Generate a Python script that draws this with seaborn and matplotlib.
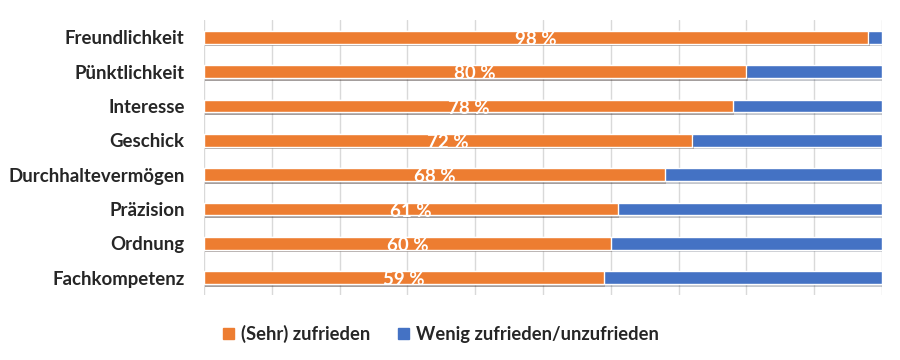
import matplotlib.pyplot as plt
import matplotlib.patheffects as pe
import numpy as np
import pandas as pd
import seaborn as sns
from matplotlib.patches import Patch

categories = ['Freundlichkeit', 'Pünktlichkeit', 'Interesse', 'Geschick',
              'Durchhaltevermögen', 'Präzision', 'Ordnung', 'Fachkompetenz']
zufrieden = [98, 80, 78, 72, 68, 61, 60, 59]
unzufrieden = [2, 20, 22, 28, 32, 39, 40, 41]
series_names = ['(Sehr) zufrieden', 'Wenig zufrieden/unzufrieden']

orange = '#ED7D31'
blue = '#4472C4'

sns.set_theme(style='white')
plt.rcParams['font.family'] = ['Lato', 'DejaVu Sans']

df = pd.DataFrame({'cat': categories,
                   'zufrieden': zufrieden,
                   'total': np.array(zufrieden) + np.array(unzufrieden)})

fig = plt.figure(figsize=(9, 3.6), dpi=100)
ax = fig.add_axes([0.2267, 0.181, 0.7533, 0.763])

sns.barplot(data=df, x='total', y='cat', color=blue, width=0.36,
            saturation=1, ax=ax, orient='h')
sns.barplot(data=df, x='zufrieden', y='cat', color=orange, width=0.36,
            saturation=1, ax=ax, orient='h')
# soft drop shadow like the office chart
for p in ax.patches:
    p.set_path_effects([pe.SimplePatchShadow(offset=(1, -2), alpha=0.25),
                        pe.Normal()])

for i, v in enumerate(zufrieden):
    ax.text(v / 2, i + 0.06, f'{v} %', color='white', fontsize=13.5,
            fontweight='bold', ha='center', va='center')

ax.set_xlim(0, 100)
ax.set_ylim(7.5, -0.5)
ax.set_xticks(np.arange(0, 101, 10))
ax.set_xticklabels([])
ax.xaxis.grid(True, color='#d9d9d9', lw=1)
ax.set_axisbelow(True)
ax.tick_params(axis='both', length=0)
ax.tick_params(axis='y', pad=14, labelsize=13.4)
for lab in ax.get_yticklabels():
    lab.set_fontweight('bold')
ax.set_xlabel('')
ax.set_ylabel('')
for s in ax.spines.values():
    s.set_visible(False)

handles = [Patch(color=orange), Patch(color=blue)]
fig.legend(handles, series_names, loc='center', bbox_to_anchor=(0.49, 0.072),
           ncol=2, frameon=False, prop={'weight': 'bold', 'size': 13.2},
           handlelength=0.6, handleheight=0.6, handletextpad=0.4,
           columnspacing=1.5)

fig.savefig('out.png', dpi=100)
